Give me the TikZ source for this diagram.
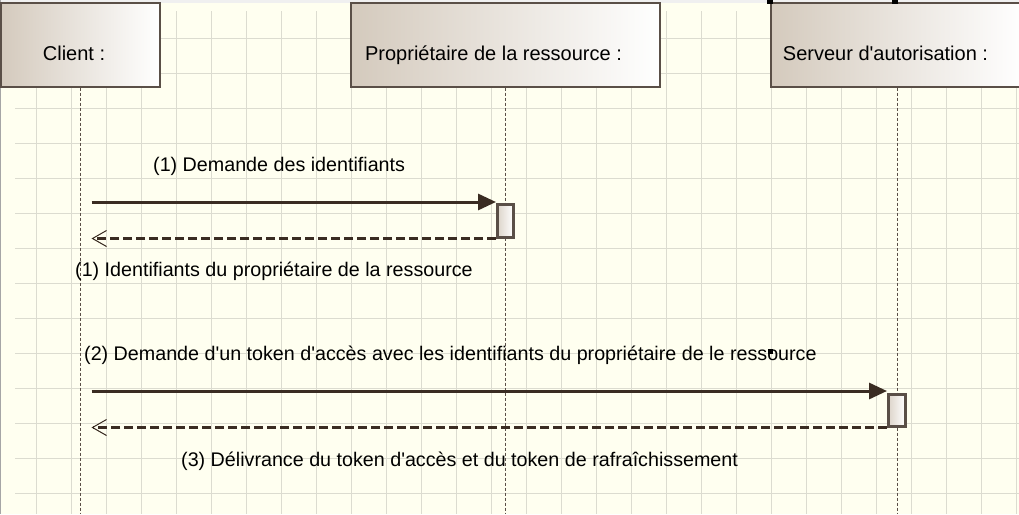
\documentclass[tikz,border=0pt]{standalone}
\usepackage{fontspec}
\setmainfont{Liberation Sans}
\usetikzlibrary{calc}
\usetikzlibrary{positioning}
\usetikzlibrary{arrows.meta}

\definecolor{paper}{HTML}{FFFFF0}
\definecolor{gridc}{HTML}{DCDCD0}
\definecolor{edge}{HTML}{5A4F47}
\definecolor{ink}{HTML}{3A2C22}
\definecolor{shade}{HTML}{D4CABD}

\newcommand{\q}{\textquotesingle}

\tikzset{
  actor/.style={draw=edge,line width=1.3pt,left color=shade,right color=white,
    minimum height=84pt,inner sep=0pt,text height=34pt,text depth=4pt,
    font=\fontsize{20}{24}\selectfont},
  activation/.style={draw=edge,line width=3pt,left color=shade!80,right color=white,
    inner sep=0pt},
  lifeline/.style={edge,line width=1pt,dash pattern=on 3pt off 2pt},
  call/.style={ink,line width=3pt,-{Triangle[length=18pt,width=16pt]}},
  reply/.style={ink,line width=3pt,dash pattern=on 9pt off 4pt,
    -{Straight Barb[length=14pt,width=16pt,line width=1pt]}},
  msg/.style={anchor=west,inner sep=0pt,font=\fontsize{19.7}{23}\selectfont},
}

\begin{document}
\begin{tikzpicture}[x=1pt,y=-1pt]
      \useasboundingbox (0,0) rectangle (1019,514);
      \clip (0,0) rectangle (1019,514);
      % paper and grid
      \fill[paper] (0,0) rectangle (1019,514);
      \fill[black!6] (0,0) rectangle (1019,3);
      \draw[black!35,line width=1.5pt] (0.5,0) -- (0.5,514);
      \foreach \k in {0,...,28}
        \draw[gridc,line width=1pt] (36+35*\k,11) -- (36+35*\k,514);
      \foreach \k in {0,...,13}
        \draw[gridc,line width=1pt] (15,38.33+35*\k) -- (1019,38.33+35*\k);

      % actors
      \node[actor,minimum width=159pt] (client) at (80.5,45) {Client :\hspace*{13pt}};
      \node[actor,minimum width=309pt] (owner) at (505.5,45) {Propriétaire de la ressource :\hspace*{24pt}};
      \node[actor,minimum width=252pt] (server) at (897,45) {Serveur d\q autorisation :\hspace*{23pt}};

      % lifelines
      \coordinate (bottom) at (0,514);
      \draw[lifeline] (client.south) -- (client.south |- bottom);
      \draw[lifeline] (owner.south) -- (owner.south |- bottom);
      \draw[lifeline] (server.south) -- (server.south |- bottom);

      % activations
      \node[activation,minimum width=16pt,minimum height=33pt] (act1) at (505.5,220.5) {};
      \node[activation,minimum width=17pt,minimum height=32pt] (act2) at (897,410) {};

      % messages
      \coordinate (r1) at (0,202);
      \coordinate (r2) at (0,391);
      \draw[call] ([xshift=11pt]client |- r1) -- (act1.west |- r1);
      \draw[reply] (act1.south west) -- ([xshift=11pt]client |- act1.south);
      \draw[call] ([xshift=11pt]client |- r2) -- (act2.west |- r2);
      \draw[reply] (act2.south west) -- ([xshift=11pt]client |- act2.south);

      \node[msg] (m1) at (153,166) {(1) Demande des identifiants};
      \node[msg] (m2) at (75,271) {(1) Identifiants du propriétaire de la ressource};
      \node[msg] (m3) at (84,355) {(2) Demande d\q un token d\q accès avec les identifiants du propriétaire de le ressource};
      \node[msg] (m4) at (181,461) {(3) Délivrance du token d\q accès et du token de rafraîchissement};

      % selection handles
      \fill (767,0) rectangle (773,4);
      \fill (892,0) rectangle (898,4);
      \fill (768,349) rectangle (773,354);
\end{tikzpicture}
\end{document}
